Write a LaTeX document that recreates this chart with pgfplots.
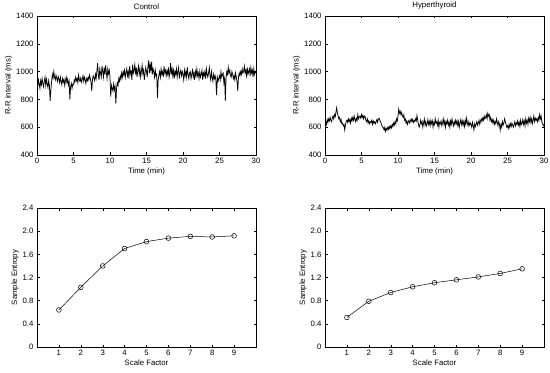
\documentclass[border=0pt]{standalone}
\usepackage{pgfplots}
\pgfplotsset{compat=1.18}
\usepackage{fontspec}
\setmainfont{Liberation Sans}
\pgfplotsset{
  mstyle/.style={
    scale only axis, width=219bp, height=139bp,
    tick align=inside, major tick length=2.5bp,
    tick style={black, line width=0.4pt},
    axis line style={line width=0.5pt},
    font=\fontsize{7.8}{9}\selectfont,
    /pgf/number format/assume math mode=true,
    xlabel style={yshift=3pt},
    ylabel style={yshift=-3pt},
    title style={yshift=-3pt},
  },
  tstyle/.style={mstyle,
    xmin=0, xmax=30, ymin=400, ymax=1400,
    xtick={0,5,...,30}, ytick={400,600,...,1400},
    xlabel={Time (min)}, ylabel={R-R interval (ms)},
    /pgf/number format/set thousands separator={},
  },
  estyle/.style={mstyle,
    xmin=0, xmax=10, ymin=0, ymax=2.4,
    xtick={1,...,9}, ytick={0,0.4,...,2.4},
    yticklabels={0,0.4,0.8,1.2,1.6,2.0,2.4},
    xlabel={Scale Factor}, ylabel={Sample Entropy},
  },
}
\begin{document}
\begin{tikzpicture}[x=1bp,y=1bp]
\path[use as bounding box] (0,0) rectangle (550,372);
\begin{axis}[tstyle, at={(37bp,217bp)}, anchor=south west, title={Control}]
\addplot[black, line width=0.75pt] coordinates {
(0.0,920)(0.1,895)(0.2,940)(0.3,910)(0.4,880)(0.5,935)(0.6,905)(0.7,950)(0.8,915)(0.9,890)
(1.0,930)(1.1,960)(1.2,900)(1.3,945)(1.4,910)(1.5,885)(1.6,935)(1.7,900)(1.8,790)(1.9,870)
(2.0,925)(2.1,980)(2.2,955)(2.3,1000)(2.4,960)(2.5,940)(2.6,975)(2.7,950)(2.8,930)(2.9,965)
(3.0,945)(3.1,920)(3.2,960)(3.3,930)(3.4,905)(3.5,950)(3.6,925)(3.7,945)(3.8,900)(3.9,935)
(4.0,960)(4.1,920)(4.2,945)(4.3,905)(4.4,930)(4.5,800)(4.6,890)(4.7,915)(4.8,880)(4.9,910)
(5.0,905)(5.1,940)(5.2,925)(5.3,960)(5.4,935)(5.5,950)(5.6,920)(5.7,975)(5.8,940)(5.9,930)
(6.0,955)(6.1,925)(6.2,945)(6.3,970)(6.4,930)(6.5,960)(6.6,940)(6.7,915)(6.8,950)(6.9,935)
(7.0,960)(7.1,940)(7.2,975)(7.3,950)(7.4,925)(7.5,860)(7.6,945)(7.7,970)(7.8,955)(7.9,935)
(8.0,980)(8.1,950)(8.2,1000)(8.3,1060)(8.4,980)(8.5,940)(8.6,1020)(8.7,990)(8.8,960)(8.9,1040)
(9.0,1000)(9.1,960)(9.2,1030)(9.3,980)(9.4,1045)(9.5,990)(9.6,950)(9.7,1020)(9.8,985)(9.9,1010)
(10.0,960)(10.1,820)(10.2,900)(10.3,880)(10.4,860)(10.5,910)(10.6,870)(10.7,895)(10.8,770)(10.9,880)
(11.0,920)(11.1,900)(11.2,950)(11.3,930)(11.4,970)(11.5,945)(11.6,990)(11.7,960)(11.8,1000)(11.9,975)
(12.0,1010)(12.1,960)(12.2,990)(12.3,1020)(12.4,970)(12.5,1000)(12.6,950)(12.7,1040)(12.8,985)(12.9,1000)
(13.0,940)(13.1,1050)(13.2,990)(13.3,1010)(13.4,1050)(13.5,980)(13.6,1030)(13.7,960)(13.8,1005)(13.9,1040)
(14.0,980)(14.1,1020)(14.2,960)(14.3,1000)(14.4,1045)(14.5,985)(14.6,1010)(14.7,940)(14.8,990)(14.9,1030)
(15.0,1000)(15.1,960)(15.2,1040)(15.3,1080)(15.4,990)(15.5,1050)(15.6,1010)(15.7,1070)(15.8,980)(15.9,1020)
(16.0,1000)(16.1,960)(16.2,1010)(16.3,970)(16.4,980)(16.5,810)(16.6,940)(16.7,975)(16.8,1000)(16.9,960)
(17.0,1020)(17.1,980)(17.2,1000)(17.3,960)(17.4,1040)(17.5,990)(17.6,1010)(17.7,970)(17.8,1005)(17.9,980)
(18.0,1030)(18.1,960)(18.2,990)(18.3,1060)(18.4,980)(18.5,1020)(18.6,970)(18.7,1010)(18.8,950)(18.9,1000)
(19.0,980)(19.1,1020)(19.2,960)(19.3,1000)(19.4,1030)(19.5,950)(19.6,990)(19.7,1010)(19.8,970)(19.9,1000)
(20.0,980)(20.1,940)(20.2,1010)(20.3,970)(20.4,1000)(20.5,960)(20.6,1030)(20.7,980)(20.8,950)(20.9,990)
(21.0,1000)(21.1,950)(21.2,980)(21.3,1010)(21.4,960)(21.5,990)(21.6,940)(21.7,1000)(21.8,970)(21.9,1020)
(22.0,970)(22.1,990)(22.2,950)(22.3,1000)(22.4,960)(22.5,980)(22.6,1010)(22.7,940)(22.8,990)(22.9,970)
(23.0,1000)(23.1,950)(23.2,1020)(23.3,980)(23.4,960)(23.5,990)(23.6,1030)(23.7,970)(23.8,940)(23.9,1000)
(24.0,960)(24.1,930)(24.2,980)(24.3,950)(24.4,970)(24.5,940)(24.6,830)(24.7,960)(24.8,930)(24.9,950)
(25.0,970)(25.1,940)(25.2,1000)(25.3,960)(25.4,980)(25.5,990)(25.6,920)(25.7,950)(25.8,790)(25.9,960)
(26.0,1000)(26.1,980)(26.2,1030)(26.3,990)(26.4,1010)(26.5,970)(26.6,960)(26.7,1000)(26.8,980)(26.9,950)
(27.0,970)(27.1,940)(27.2,990)(27.3,960)(27.4,930)(27.5,860)(27.6,960)(27.7,990)(27.8,970)(27.9,1000)
(28.0,980)(28.1,1020)(28.2,990)(28.3,1000)(28.4,1040)(28.5,990)(28.6,1010)(28.7,970)(28.8,1030)(28.9,980)
(29.0,1000)(29.1,1020)(29.2,970)(29.3,1030)(29.4,990)(29.5,1010)(29.6,960)(29.7,1020)(29.8,980)(29.9,1000)
(30.0,990)
};
\end{axis}
\begin{axis}[tstyle, at={(325bp,217bp)}, anchor=south west, title={Hyperthyroid}]
\addplot[black, line width=0.75pt] coordinates {
(0.0,600)(0.1,640)(0.2,620)(0.3,655)(0.4,635)(0.5,660)(0.6,645)(0.7,670)(0.8,650)(0.9,640)
(1.0,665)(1.1,680)(1.2,660)(1.3,690)(1.4,675)(1.5,710)(1.6,740)(1.7,700)(1.8,680)(1.9,660)
(2.0,670)(2.1,640)(2.2,655)(2.3,625)(2.4,630)(2.5,610)(2.6,620)(2.7,580)(2.8,615)(2.9,640)
(3.0,650)(3.1,635)(3.2,660)(3.3,640)(3.4,655)(3.5,630)(3.6,665)(3.7,645)(3.8,670)(3.9,650)
(4.0,680)(4.1,655)(4.2,640)(4.3,665)(4.4,650)(4.5,690)(4.6,660)(4.7,675)(4.8,680)(4.9,665)
(5.0,690)(5.1,670)(5.2,685)(5.3,660)(5.4,680)(5.5,675)(5.6,650)(5.7,640)(5.8,660)(5.9,630)
(6.0,645)(6.1,625)(6.2,640)(6.3,635)(6.4,650)(6.5,620)(6.6,645)(6.7,630)(6.8,640)(6.9,625)
(7.0,640)(7.1,655)(7.2,635)(7.3,660)(7.4,665)(7.5,650)(7.6,640)(7.7,625)(7.8,610)(7.9,600)
(8.0,595)(8.1,580)(8.2,600)(8.3,570)(8.4,590)(8.5,580)(8.6,600)(8.7,585)(8.8,605)(8.9,590)
(9.0,610)(9.1,595)(9.2,620)(9.3,605)(9.4,630)(9.5,615)(9.6,640)(9.7,625)(9.8,660)(9.9,645)
(10.0,680)(10.1,730)(10.2,700)(10.3,715)(10.4,690)(10.5,705)(10.6,680)(10.7,670)(10.8,690)(10.9,650)
(11.0,660)(11.1,630)(11.2,645)(11.3,620)(11.4,640)(11.5,650)(11.6,630)(11.7,645)(11.8,660)(11.9,640)
(12.0,655)(12.1,635)(12.2,650)(12.3,640)(12.4,660)(12.5,645)(12.6,685)(12.7,650)(12.8,620)(12.9,600)
(13.0,615)(13.1,650)(13.2,625)(13.3,640)(13.4,600)(13.5,630)(13.6,660)(13.7,615)(13.8,640)(13.9,610)
(14.0,625)(14.1,655)(14.2,620)(14.3,640)(14.4,610)(14.5,650)(14.6,625)(14.7,645)(14.8,600)(14.9,635)
(15.0,620)(15.1,660)(15.2,630)(15.3,640)(15.4,615)(15.5,650)(15.6,600)(15.7,635)(15.8,625)(15.9,645)
(16.0,610)(16.1,630)(16.2,660)(16.3,620)(16.4,645)(16.5,600)(16.6,640)(16.7,625)(16.8,650)(16.9,615)
(17.0,635)(17.1,600)(17.2,645)(17.3,620)(17.4,660)(17.5,630)(17.6,610)(17.7,640)(17.8,620)(17.9,650)
(18.0,625)(18.1,645)(18.2,610)(18.3,640)(18.4,600)(18.5,630)(18.6,655)(18.7,620)(18.8,645)(18.9,615)
(19.0,640)(19.1,605)(19.2,650)(19.3,620)(19.4,665)(19.5,630)(19.6,610)(19.7,640)(19.8,615)(19.9,630)
(20.0,620)(20.1,600)(20.2,635)(20.3,610)(20.4,580)(20.5,625)(20.6,605)(20.7,620)(20.8,640)(20.9,615)
(21.0,630)(21.1,650)(21.2,620)(21.3,645)(21.4,660)(21.5,640)(21.6,665)(21.7,650)(21.8,680)(21.9,660)
(22.0,670)(22.1,690)(22.2,660)(22.3,700)(22.4,680)(22.5,690)(22.6,650)(22.7,670)(22.8,640)(22.9,655)
(23.0,630)(23.1,650)(23.2,620)(23.3,640)(23.4,625)(23.5,660)(23.6,635)(23.7,610)(23.8,640)(23.9,620)
(24.0,580)(24.1,620)(24.2,600)(24.3,640)(24.4,615)(24.5,630)(24.6,660)(24.7,640)(24.8,620)(24.9,600)
(25.0,610)(25.1,590)(25.2,620)(25.3,600)(25.4,625)(25.5,605)(25.6,630)(25.7,615)(25.8,600)(25.9,620)
(26.0,640)(26.1,610)(26.2,630)(26.3,620)(26.4,645)(26.5,615)(26.6,635)(26.7,605)(26.8,650)(26.9,620)
(27.0,630)(27.1,655)(27.2,620)(27.3,645)(27.4,610)(27.5,660)(27.6,630)(27.7,650)(27.8,620)(27.9,665)
(28.0,640)(28.1,670)(28.2,635)(28.3,660)(28.4,625)(28.5,650)(28.6,680)(28.7,640)(28.8,665)(28.9,650)
(29.0,660)(29.1,640)(29.2,670)(29.3,650)(29.4,690)(29.5,660)(29.6,680)(29.7,640)(29.8,625)(29.9,610)
(30.0,620)
};
\end{axis}
\begin{axis}[estyle, at={(37bp,25bp)}, anchor=south west]
\addplot[black, line width=0.5pt, mark=o, mark size=2.4pt, mark options={line width=0.5pt}] coordinates {
(1,0.64)(2,1.03)(3,1.40)(4,1.70)(5,1.82)(6,1.88)(7,1.91)(8,1.90)(9,1.92)
};
\end{axis}
\begin{axis}[estyle, at={(325bp,25bp)}, anchor=south west]
\addplot[black, line width=0.5pt, mark=o, mark size=2.4pt, mark options={line width=0.5pt}] coordinates {
(1,0.51)(2,0.79)(3,0.94)(4,1.04)(5,1.11)(6,1.16)(7,1.21)(8,1.27)(9,1.35)
};
\end{axis}
\end{tikzpicture}
\end{document}
